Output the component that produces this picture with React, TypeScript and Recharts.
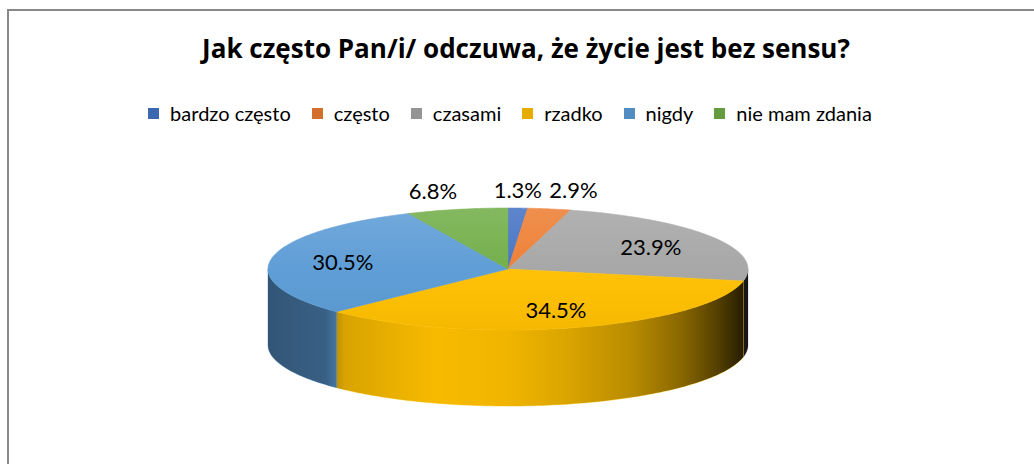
import { PieChart, Pie, Cell, Legend } from "recharts";

const CATEGORIES = ["bardzo często", "często", "czasami", "rzadko", "nigdy", "nie mam zdania"];
const SHARES = [1.3, 2.9, 23.9, 34.5, 30.5, 6.8];

const COLORS = ["#4472c4", "#ed7d31", "#a5a5a5", "#ffc000", "#5b9bd5", "#70ad47"];
const FONT = "Lato, 'Open Sans', sans-serif";
const TITLE_FONT = "'Open Sans', Lato, sans-serif";

const CX = 508;
const CY = 269;
const RADIUS = 240;
const TILT = 61 / 240;
const DEPTH = 76;

const data = CATEGORIES.map((name, i) => ({ name, value: SHARES[i] }));

// t = degrees clockwise from 12 o'clock
function rimPoint(cx: number, cy: number, r: number, t: number, dy = 0) {
  const a = (t * Math.PI) / 180;
  return [cx + r * Math.sin(a), cy - r * TILT * Math.cos(a) + dy];
}

function rim(cx: number, cy: number, r: number, from: number, to: number, dy = 0) {
  const n = Math.max(2, Math.ceil(Math.abs(to - from)));
  const pts: number[][] = [];
  for (let i = 0; i <= n; i++) pts.push(rimPoint(cx, cy, r, from + ((to - from) * i) / n, dy));
  return pts;
}

const line = (pts: number[][]) => pts.map(([x, y]) => `L${x.toFixed(2)},${y.toFixed(2)}`).join("");

function Slice(props: any) {
  const { cx, cy, outerRadius, startAngle, endAngle, fill } = props;
  let t0 = 90 - startAngle;
  let t1 = 90 - endAngle;
  if (t0 > t1) [t0, t1] = [t1, t0];

  const top = `M${cx},${cy}` + line(rim(cx, cy, outerRadius, t0, t1)) + "Z";

  // front wall only, the back half is hidden behind the top
  const a = Math.max(t0, 90);
  const b = Math.min(t1, 270);
  let side = "";
  if (b > a) {
    const upper = rim(cx, cy, outerRadius, a, b);
    const lower = rim(cx, cy, outerRadius, b, a, DEPTH);
    side = "M" + line(upper).slice(1) + line(lower) + "Z";
  }

  return (
    <g>
      {side && (
        <>
          <path d={side} fill={fill} stroke={fill} strokeWidth={0.5} />
          <path d={side} fill="url(#sideShade)" />
        </>
      )}
      <path d={top} fill={fill} stroke={fill} strokeWidth={0.5} />
      <path d={top} fill="url(#topShade)" />
    </g>
  );
}

function renderLabel(props: any) {
  const { cx, cy, outerRadius, midAngle, percent, value } = props;
  const t = ((90 - midAngle) * Math.PI) / 180;
  const s = Math.sin(t);
  const c = Math.cos(t);
  const ry = outerRadius * TILT;
  let x: number;
  let y: number;
  let anchor: "start" | "middle" | "end" = "middle";
  if (percent >= 0.1) {
    x = cx + outerRadius * 0.7 * s;
    y = cy - ry * 0.7 * c;
  } else {
    x = cx + outerRadius * s;
    y = cy - ry * c - 19;
    anchor = Math.abs(s) < 0.1 ? "middle" : s > 0 ? "start" : "end";
  }
  return (
    <text x={x} y={y} textAnchor={anchor} dominantBaseline="central" fontFamily={FONT} fontSize={22} fill="#000">
      {`${Number(value).toFixed(1)}%`}
    </text>
  );
}

function LegendContent({ payload }: any) {
  const items = [...(payload || [])].sort(
    (a: any, b: any) => CATEGORIES.indexOf(a.value) - CATEGORIES.indexOf(b.value)
  );
  return (
    <div style={{ display: "flex", justifyContent: "center", gap: 21, fontFamily: FONT, fontSize: 20, lineHeight: "24px", color: "#000" }}>
      {items.map((p: any) => (
        <span key={p.value} style={{ display: "flex", alignItems: "center" }}>
          <span
            style={{
              width: 11,
              height: 11,
              marginRight: 11,
              background: COLORS[CATEGORIES.indexOf(p.value)],
              filter: "brightness(0.9)",
            }}
          />
          {p.value}
        </span>
      ))}
    </div>
  );
}

export default function App() {
  return (
    <div style={{ position: "fixed", left: 0, top: 0, width: 1034, height: 464, overflow: "hidden", background: "#fff" }}>
      <div style={{ position: "absolute", left: 7, top: 9, width: 1100, height: 500, border: "2px solid #888", boxSizing: "border-box" }} />
      <div
        style={{
          position: "absolute",
          left: 0,
          top: 33,
          width: 1052,
          textAlign: "center",
          fontFamily: TITLE_FONT,
          fontWeight: 700,
          fontSize: 26,
          lineHeight: "30px",
          color: "#000",
        }}
      >
        Jak często Pan/i/ odczuwa, że życie jest bez sensu?
      </div>
      <div style={{ position: "absolute", left: 0, top: 0 }}>
        <PieChart width={1034} height={464} margin={{ top: 0, right: 0, bottom: 0, left: 0 }}>
          <defs>
            <linearGradient id="sideShade" gradientUnits="userSpaceOnUse" x1={CX - RADIUS} y1={0} x2={CX + RADIUS} y2={0}>
              <stop offset="0" stopColor="#000" stopOpacity={0.45} />
              <stop offset="0.12" stopColor="#000" stopOpacity={0.38} />
              <stop offset="0.16" stopColor="#000" stopOpacity={0.15} />
              <stop offset="0.35" stopColor="#000" stopOpacity={0.03} />
              <stop offset="0.5" stopColor="#000" stopOpacity={0.06} />
              <stop offset="0.62" stopColor="#000" stopOpacity={0.14} />
              <stop offset="0.76" stopColor="#000" stopOpacity={0.28} />
              <stop offset="0.86" stopColor="#000" stopOpacity={0.46} />
              <stop offset="0.94" stopColor="#000" stopOpacity={0.68} />
              <stop offset="1" stopColor="#000" stopOpacity={0.88} />
            </linearGradient>
            <linearGradient id="topShade" gradientUnits="userSpaceOnUse" x1={0} y1={CY - RADIUS * TILT} x2={0} y2={CY + RADIUS * TILT}>
              <stop offset="0" stopColor="#fff" stopOpacity={0.14} />
              <stop offset="0.5" stopColor="#fff" stopOpacity={0.03} />
              <stop offset="1" stopColor="#000" stopOpacity={0.04} />
            </linearGradient>
          </defs>
          <Legend verticalAlign="middle" layout="horizontal" wrapperStyle={{ top: 101, left: 0, width: 1020 }} content={LegendContent} />
          <Pie
            data={data}
            dataKey="value"
            nameKey="name"
            cx={CX}
            cy={CY}
            outerRadius={RADIUS}
            startAngle={90}
            endAngle={-270}
            stroke="none"
            shape={Slice}
            activeShape={Slice}
            inactiveShape={Slice}
            label={renderLabel}
            labelLine={false}
            isAnimationActive={false}
          >
            {data.map((d, i) => (
              <Cell key={d.name} fill={COLORS[i]} />
            ))}
          </Pie>
        </PieChart>
      </div>
    </div>
  );
}
